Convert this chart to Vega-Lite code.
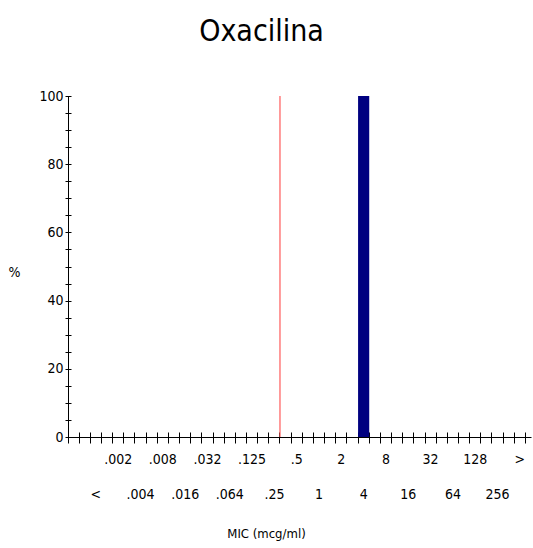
{
  "$schema": "https://vega.github.io/schema/vega-lite/v6.json",
  "width": 463,
  "height": 341,
  "autosize": {"type": "none"},
  "padding": {"left": 68, "top": 96, "right": 2, "bottom": 111},
  "background": "white",
  "config": {
    "view": {"stroke": null},
    "font": "Liberation Sans Narrow, Arial Narrow, DejaVu Sans Condensed, sans-serif",
    "axis": {
      "domainColor": "black",
      "tickColor": "black",
      "labelColor": "black",
      "titleColor": "black",
      "grid": false,
      "labelFont": "Liberation Sans Narrow, Arial Narrow, DejaVu Sans Condensed, sans-serif",
      "titleFont": "Liberation Sans Narrow, Arial Narrow, DejaVu Sans Condensed, sans-serif",
      "titleFontWeight": "normal",
      "labelFontSize": 14,
      "titleFontSize": 13,
      "labelOverlap": false,
      "labelFlush": false,
      "labelBound": false
    }
  },
  "title": {
    "text": "Oxacilina",
    "font": "Liberation Sans Narrow, Arial Narrow, DejaVu Sans Condensed, sans-serif",
    "fontSize": 30,
    "fontWeight": "normal",
    "color": "black",
    "anchor": "middle",
    "frame": "group",
    "dx": -38,
    "offset": 18,
    "baseline": "alphabetic"
  },
  "data": {
    "values": [
      {"mic": "<", "pct": 0},
      {"mic": ".002", "pct": 0},
      {"mic": ".004", "pct": 0},
      {"mic": ".008", "pct": 0},
      {"mic": ".016", "pct": 0},
      {"mic": ".032", "pct": 0},
      {"mic": ".064", "pct": 0},
      {"mic": ".125", "pct": 0},
      {"mic": ".25", "pct": 0},
      {"mic": ".5", "pct": 0},
      {"mic": "1", "pct": 0},
      {"mic": "2", "pct": 0},
      {"mic": "4", "pct": 100},
      {"mic": "8", "pct": 0},
      {"mic": "16", "pct": 0},
      {"mic": "32", "pct": 0},
      {"mic": "64", "pct": 0},
      {"mic": "128", "pct": 0},
      {"mic": "256", "pct": 0},
      {"mic": ">", "pct": 0}
    ]
  },
  "layer": [
    {
      "mark": {"type": "bar", "color": "#000080"},
      "encoding": {
        "x": {
          "field": "mic",
          "type": "ordinal",
          "sort": null,
          "scale": {
            "type": "band",
            "domain": [" ", "<", ".002", ".004", ".008", ".016", ".032", ".064", ".125", ".25", ".5", "1", "2", "4", "8", "16", "32", "64", "128", "256", ">"],
            "paddingInner": 0.5,
            "paddingOuter": 0.125,
            "align": 0
          },
          "axis": {
            "orient": "bottom",
            "values": [".002", ".008", ".032", ".125", ".5", "2", "8", "32", "128", ">"],
            "ticks": false,
            "domain": true,
            "labelAngle": 0,
            "labelPadding": 15,
            "labelBaseline": "top",
            "title": null
          }
        },
        "y": {
          "field": "pct",
          "type": "quantitative",
          "scale": {"domain": [0, 100], "nice": false, "zero": true},
          "axis": {
            "orient": "left",
            "values": [0, 20, 40, 60, 80, 100],
            "ticks": false,
            "domain": true,
            "labelPadding": 5,
            "title": "%",
            "titleAngle": 0,
            "titleX": -54,
            "titleY": 176,
            "titleAlign": "center",
            "titleBaseline": "middle",
            "titleFontSize": 14
          }
        }
      }
    },
    {
      "data": {"values": [{"bp": ".25"}]},
      "mark": {"type": "rule", "color": "#FF5A5A", "strokeWidth": 1.2},
      "encoding": {
        "x": {
          "field": "bp",
          "type": "ordinal",
          "bandPosition": 1,
          "axis": {
            "orient": "bottom",
            "values": ["<", ".004", ".016", ".064", ".25", "1", "4", "16", "64", "256"],
            "ticks": false,
            "domain": false,
            "labelAngle": 0,
            "labelPadding": 50,
            "labelBaseline": "top",
            "title": "MIC (mcg/ml)",
            "titleX": 198,
            "titleY": 96,
            "titleAlign": "center",
            "titleBaseline": "middle"
          }
        },
        "y": {
          "datum": 0,
          "type": "quantitative",
          "axis": {
            "orient": "left",
            "values": [0, 5, 10, 15, 20, 25, 30, 35, 40, 45, 50, 55, 60, 65, 70, 75, 80, 85, 90, 95, 100],
            "labels": false,
            "domain": false,
            "ticks": true,
            "tickSize": 6,
            "offset": -3,
            "title": null
          }
        },
        "y2": {"datum": 100}
      }
    },
    {
      "mark": {"type": "bar", "opacity": 0},
      "encoding": {
        "x": {
          "field": "mic",
          "type": "ordinal",
          "axis": {
            "orient": "bottom",
            "bandPosition": 0,
            "labels": false,
            "domain": false,
            "ticks": true,
            "tickSize": 11,
            "offset": -5,
            "title": null
          }
        }
      }
    },
    {
      "mark": {"type": "bar", "opacity": 0},
      "encoding": {
        "x": {
          "field": "mic",
          "type": "ordinal",
          "axis": {
            "orient": "bottom",
            "bandPosition": 1,
            "labels": false,
            "domain": false,
            "ticks": true,
            "tickSize": 11,
            "offset": -5,
            "title": null
          }
        }
      }
    }
  ],
  "resolve": {"axis": {"x": "independent", "y": "independent"}}
}
